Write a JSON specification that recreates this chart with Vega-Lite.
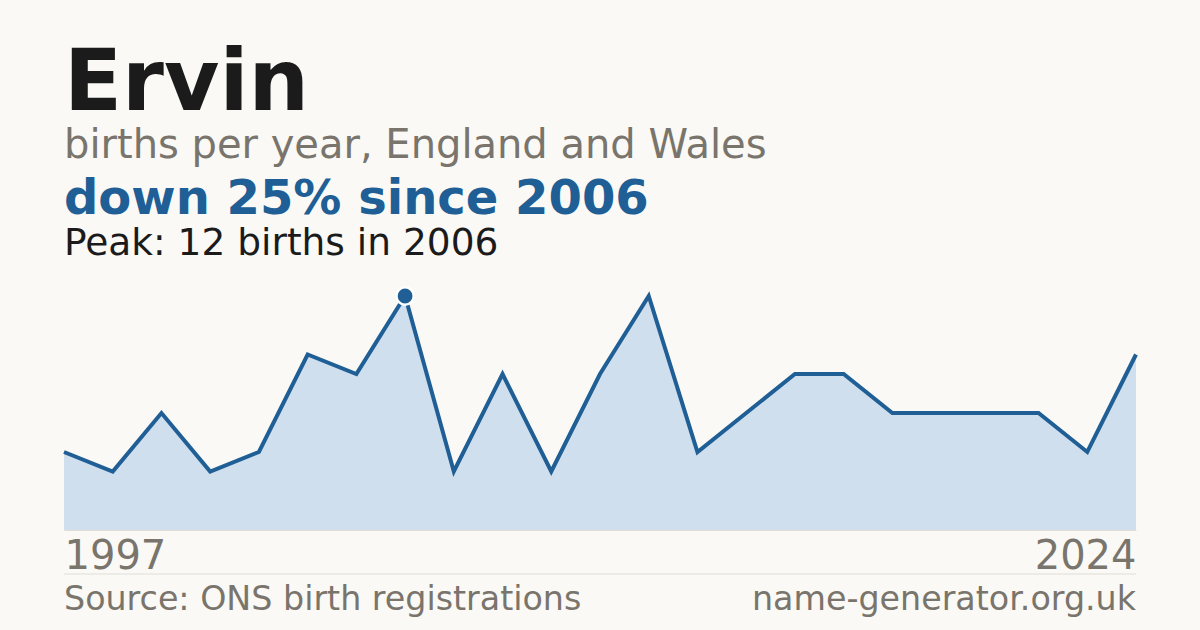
{
  "$schema": "https://vega.github.io/schema/vega-lite/v6.json",
  "background": "#faf9f5",
  "padding": {"left": 56, "right": 72, "top": 42, "bottom": 20},
  "config": {"view": {"stroke": null}, "font": "DejaVu Sans"},
  "title": {
    "text": "Ervin",
    "subtitle": "births per year, England and Wales",
    "anchor": "start",
    "frame": "group",
    "font": "DejaVu Sans",
    "fontSize": 85,
    "fontWeight": "bold",
    "color": "#1b1b1b",
    "subtitleFont": "DejaVu Sans",
    "subtitleFontSize": 40,
    "subtitleColor": "#79746c",
    "subtitlePadding": -2,
    "offset": 9
  },
  "bounds": "flush",
  "spacing": 44,
  "vconcat": [
    {
      "width": 1072,
      "height": 234,
      "title": {
        "text": "down 25% since 2006",
        "subtitle": "Peak: 12 births in 2006",
        "anchor": "start",
        "frame": "group",
        "font": "DejaVu Sans",
        "fontSize": 48,
        "fontWeight": "bold",
        "color": "#205f95",
        "subtitleFont": "DejaVu Sans",
        "subtitleFontSize": 37.5,
        "subtitleColor": "#1b1b1b",
        "subtitlePadding": 1,
        "offset": 19.5
      },
      "data": {
        "values": [
          {"year": 1997, "births": 4},
          {"year": 1998, "births": 3},
          {"year": 1999, "births": 6},
          {"year": 2000, "births": 3},
          {"year": 2001, "births": 4},
          {"year": 2003, "births": 9},
          {"year": 2004, "births": 8},
          {"year": 2006, "births": 12},
          {"year": 2007, "births": 3},
          {"year": 2008, "births": 8},
          {"year": 2009, "births": 3},
          {"year": 2010, "births": 8},
          {"year": 2011, "births": 12},
          {"year": 2012, "births": 4},
          {"year": 2014, "births": 6},
          {"year": 2015, "births": 8},
          {"year": 2016, "births": 8},
          {"year": 2018, "births": 6},
          {"year": 2019, "births": 6},
          {"year": 2020, "births": 6},
          {"year": 2021, "births": 6},
          {"year": 2023, "births": 4},
          {"year": 2024, "births": 9}
        ]
      },
      "encoding": {
        "x": {
          "field": "year",
          "type": "ordinal",
          "sort": "ascending",
          "scale": {"type": "point", "padding": 0},
          "axis": {
            "values": [1997, 2024],
            "labelFlush": true,
            "labelFont": "DejaVu Sans",
            "labelFontSize": 40,
            "labelColor": "#79746c",
            "labelPadding": 6,
            "labelAngle": 0,
            "ticks": false,
            "domain": true,
            "domainColor": "#e0ddd5",
            "domainWidth": 1,
            "grid": false,
            "title": null
          }
        },
        "y": {
          "field": "births",
          "type": "quantitative",
          "scale": {"domain": [0, 12], "nice": false, "zero": true},
          "axis": null
        }
      },
      "layer": [
        {"mark": {"type": "area", "color": "#cfdfee", "opacity": 1}},
        {"mark": {"type": "line", "color": "#1f5f96", "strokeWidth": 4, "strokeJoin": "miter"}},
        {
          "transform": [{"filter": "datum.year == 2006"}],
          "mark": {"type": "point", "filled": true, "fill": "#1f5f96", "stroke": "#ffffff", "strokeWidth": 2.5, "size": 300, "opacity": 1}
        }
      ]
    },
    {
      "width": 1072,
      "height": 36,
      "data": {
        "values": [
          {"label": "Source: ONS birth registrations", "side": "left"},
          {"label": "name-generator.org.uk", "side": "right"}
        ]
      },
      "layer": [
        {
          "transform": [{"filter": "datum.side == 'left'"}],
          "mark": {"type": "rule", "color": "#e0ddd5", "strokeWidth": 1},
          "encoding": {
            "y": {"datum": 1, "type": "quantitative", "scale": {"domain": [0, 1]}, "axis": null}
          }
        },
        {
          "transform": [{"filter": "datum.side == 'left'"}],
          "mark": {"type": "text", "align": "left", "baseline": "alphabetic", "font": "DejaVu Sans", "fontSize": 33.3, "color": "#79746c"},
          "encoding": {
            "text": {"field": "label"},
            "x": {"field": "side", "type": "nominal", "scale": {"type": "point", "padding": 0, "domain": ["left", "right"]}, "axis": null},
            "y": {"datum": 0, "type": "quantitative", "scale": {"domain": [0, 1]}, "axis": null}
          }
        },
        {
          "transform": [{"filter": "datum.side == 'right'"}],
          "mark": {"type": "text", "align": "right", "baseline": "alphabetic", "font": "DejaVu Sans", "fontSize": 33.3, "color": "#79746c"},
          "encoding": {
            "text": {"field": "label"},
            "x": {"field": "side", "type": "nominal", "scale": {"type": "point", "padding": 0, "domain": ["left", "right"]}, "axis": null},
            "y": {"datum": 0, "type": "quantitative", "scale": {"domain": [0, 1]}, "axis": null}
          }
        }
      ]
    }
  ]
}
